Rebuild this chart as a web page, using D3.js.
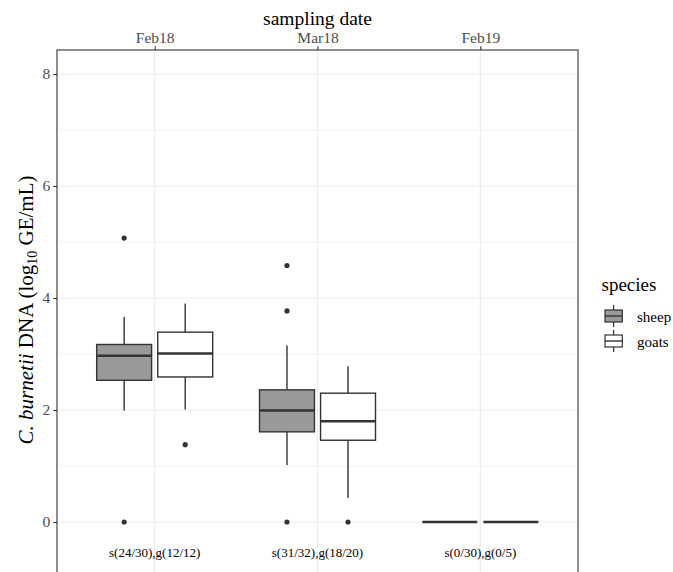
<!DOCTYPE html>
<html><head><meta charset="utf-8">
<script src="https://cdn.jsdelivr.net/npm/d3@7"></script>
<style>body{margin:0;background:#fff}svg{display:block}text{font-family:"Liberation Serif","Times New Roman",serif}</style>
</head><body>
<svg id="c" width="673" height="572"></svg>
<script>
const dates = ["Feb18", "Mar18", "Feb19"];
const species = ["sheep", "goats"];
// box statistics per date, index order matches dates
const sheepLow   = [1.99, 1.02, 0];
const sheepQ1    = [2.53, 1.61, 0];
const sheepMed   = [2.97, 1.99, 0];
const sheepQ3    = [3.17, 2.36, 0];
const sheepHigh  = [3.66, 3.15, 0];
const sheepOut   = [[5.07, 0], [4.58, 3.77, 0], []];
const goatsLow   = [2.01, 0.43, 0];
const goatsQ1    = [2.59, 1.46, 0];
const goatsMed   = [3.01, 1.80, 0];
const goatsQ3    = [3.39, 2.30, 0];
const goatsHigh  = [3.90, 2.78, 0];
const goatsOut   = [[1.38], [0], []];
const counts = ["s(24/30),g(12/12)", "s(31/32),g(18/20)", "s(0/30),g(0/5)"];
const yMajor = [0, 2, 4, 6, 8];
const yMinor = [1, 3, 5, 7];
const labelY = -0.55;

const fills = {sheep: "#999999", goats: "#ffffff"};
const stats = {
  sheep: {low: sheepLow, q1: sheepQ1, med: sheepMed, q3: sheepQ3, high: sheepHigh, out: sheepOut},
  goats: {low: goatsLow, q1: goatsQ1, med: goatsMed, q3: goatsQ3, high: goatsHigh, out: goatsOut}
};

const svg = d3.select("#c");
const L = 57, R = 578, T = 50, B = 600;
const x = d3.scalePoint().domain(dates).range([L, R]).padding(0.6);
const y = d3.scaleLinear().domain([0, 8]).range([522, 74]);
const step = x.step();
const dodge = d3.scaleBand().domain(species).range([-0.375 * step, 0.375 * step]).paddingInner(0.1).paddingOuter(0.05);

const ink = "#333333";
const g = svg.append("g");
// grid
g.selectAll(".ymin").data(yMinor).join("line").attr("x1", L).attr("x2", R)
  .attr("y1", d => y(d)).attr("y2", d => y(d)).attr("stroke", "#ebebeb").attr("stroke-width", 0.6);
g.selectAll(".ymaj").data(yMajor).join("line").attr("x1", L).attr("x2", R)
  .attr("y1", d => y(d)).attr("y2", d => y(d)).attr("stroke", "#ebebeb").attr("stroke-width", 1.1);
g.selectAll(".xmaj").data(dates).join("line").attr("x1", d => x(d)).attr("x2", d => x(d))
  .attr("y1", T).attr("y2", B).attr("stroke", "#ebebeb").attr("stroke-width", 1.1);

// boxes
const bw = dodge.bandwidth();
dates.forEach((dt, i) => {
  species.forEach(sp => {
    const s = stats[sp];
    const cx = x(dt) + dodge(sp) + bw / 2;
    const x0 = x(dt) + dodge(sp);
    g.append("line").attr("x1", cx).attr("x2", cx).attr("y1", y(s.high[i])).attr("y2", y(s.q3[i]))
      .attr("stroke", ink).attr("stroke-width", 1.4);
    g.append("line").attr("x1", cx).attr("x2", cx).attr("y1", y(s.q1[i])).attr("y2", y(s.low[i]))
      .attr("stroke", ink).attr("stroke-width", 1.4);
    g.append("rect").attr("x", x0).attr("width", bw).attr("y", y(s.q3[i]))
      .attr("height", Math.max(0, y(s.q1[i]) - y(s.q3[i])))
      .attr("fill", fills[sp]).attr("stroke", ink).attr("stroke-width", 1.4);
    g.append("line").attr("x1", x0).attr("x2", x0 + bw).attr("y1", y(s.med[i])).attr("y2", y(s.med[i]))
      .attr("stroke", ink).attr("stroke-width", 2.6);
    g.selectAll(null).data(s.out[i]).join("circle").attr("cx", cx).attr("cy", d => y(d))
      .attr("r", 2.6).attr("fill", ink);
  });
});

// count annotations
g.selectAll(".cnt").data(counts).join("text").attr("x", (d, i) => x(dates[i])).attr("y", y(labelY))
  .attr("text-anchor", "middle").attr("dominant-baseline", "central").attr("font-size", 13).attr("fill", "#000").text(d => d);

// border
svg.append("rect").attr("x", L).attr("y", T).attr("width", R - L).attr("height", B - T)
  .attr("fill", "none").attr("stroke", ink).attr("stroke-width", 1.1);

// axes
const ax = svg.append("g").attr("transform", `translate(0,${T})`).call(d3.axisTop(x).tickSize(3.7).tickPadding(3));
ax.select(".domain").remove();
ax.selectAll(".tick line").attr("stroke", ink).attr("stroke-width", 1.1);
ax.selectAll(".tick text").attr("font-size", 15.5).attr("fill", "#4d4d4d").attr("font-family", "Liberation Serif");
const ay = svg.append("g").attr("transform", `translate(${L},0)`).call(d3.axisLeft(y).tickValues(yMajor).tickSize(3.7).tickPadding(3));
ay.select(".domain").remove();
ay.selectAll(".tick line").attr("stroke", ink).attr("stroke-width", 1.1);
ay.selectAll(".tick text").attr("font-size", 15.5).attr("fill", "#4d4d4d").attr("font-family", "Liberation Serif");

// titles
svg.append("text").attr("x", (L + R) / 2).attr("y", 25).attr("text-anchor", "middle")
  .attr("font-size", 19.5).attr("fill", "#000").text("sampling date");
const yl = svg.append("text").attr("transform", "translate(33,310) rotate(-90)").attr("text-anchor", "middle")
  .attr("font-size", 21).attr("fill", "#000");
yl.append("tspan").attr("font-style", "italic").text("C. burnetii");
yl.append("tspan").text(" DNA (log");
yl.append("tspan").attr("font-size", 14).attr("dy", 4).text("10");
yl.append("tspan").attr("dy", -4).text(" GE/mL)");

// legend
const lg = svg.append("g");
lg.append("text").attr("x", 601.5).attr("y", 291).attr("font-size", 19).attr("fill", "#000").text("species");
species.forEach((sp, i) => {
  const cy = 316 + i * 25;
  const kx = 605, kw = 17.3;
  lg.append("line").attr("x1", kx + kw / 2).attr("x2", kx + kw / 2).attr("y1", cy - 11).attr("y2", cy + 11)
    .attr("stroke", ink).attr("stroke-width", 1.2);
  lg.append("rect").attr("x", kx).attr("y", cy - 6).attr("width", kw).attr("height", 12)
    .attr("fill", fills[sp]).attr("stroke", ink).attr("stroke-width", 1.2);
  lg.append("line").attr("x1", kx).attr("x2", kx + kw).attr("y1", cy).attr("y2", cy)
    .attr("stroke", ink).attr("stroke-width", 1.4);
  lg.append("text").attr("x", 637).attr("y", cy + 5.5).attr("font-size", 15).attr("fill", "#000").text(sp);
});
</script>
</body></html>
